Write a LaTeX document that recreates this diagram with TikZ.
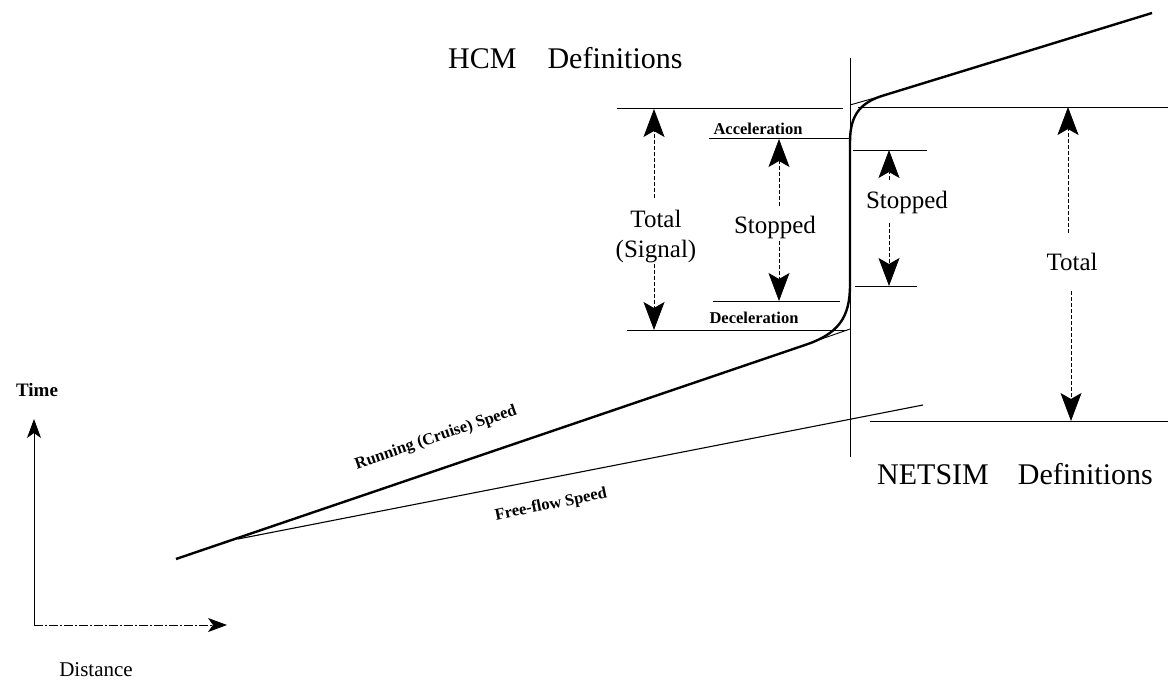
\documentclass[tikz,border=0pt]{standalone}
\usepackage{fontspec}
\setmainfont{Liberation Serif}
\usetikzlibrary{arrows.meta}
\begin{document}
\begin{tikzpicture}[x=1pt,y=-1pt,
  guide/.style={line width=0.9pt},
  traj/.style={line width=2.4pt, line join=round},
  dim/.style={line width=0.8pt, dash pattern=on 4pt off 2pt,
    -{Stealth[length=28pt,width=21pt,inset=6pt]}},
  axisarrow/.style={line width=0.9pt, -{Stealth[length=19pt,width=14pt,inset=5pt]}},
  title/.style={font=\fontsize{30}{36}\selectfont, inner sep=0pt, anchor=base west},
  midlabel/.style={font=\fontsize{25}{30}\selectfont, inner sep=0pt, align=center},
  smalllabel/.style={font=\bfseries\fontsize{16.5}{19}\selectfont, inner sep=0pt},
  axislabel/.style={font=\fontsize{21}{24}\selectfont, inner sep=0pt}]
\useasboundingbox (0,0) rectangle (1168,680);

% titles
\node[title] (hcm) at (448,68) {HCM\hspace{31pt}Definitions};
\node[title] (netsim) at (877,484) {NETSIM\hspace{29pt}Definitions};

% axes
\coordinate (O) at (34,625);
\coordinate (ytip) at (34,419);
\coordinate (xtip) at (227,625);
\draw[axisarrow] (O) -- (ytip);
\draw[axisarrow, dash pattern=on 9pt off 2pt on 2pt off 2pt] (O) -- (xtip);
\node[axislabel, font=\bfseries\fontsize{19}{22}\selectfont] (time) at (37,390) {Time};
\node[axislabel] (dist) at (96,670) {Distance};

% signal (stop) line
\coordinate (vtop) at (850,58);
\coordinate (vbot) at (850,457);
\draw[guide] (vtop) -- (vbot);

% trajectories
\draw[traj] (176,559) -- (805,345) .. controls (838,334) and (850,318) .. (850,285)
  -- (850,142) .. controls (850,114) and (861,102) .. (885,95) -- (1152,13);
\draw[guide] (810,343) -- (850,329);
\draw[guide] (850,105) -- (885,95);
\draw[line width=1.1pt] (238,539) -- (923,405);

\node[smalllabel, rotate=18.8] (run) at (436,438) {Running (Cruise) Speed};
\node[smalllabel, rotate=11.5] (ff) at (551,505) {Free-flow Speed};

% HCM reference lines
\coordinate (tl1) at (617,108); \coordinate (tl2) at (843,108);
\coordinate (tr1) at (858,107); \coordinate (tr2) at (1168,107);
\coordinate (acc1) at (709,138); \coordinate (acc2) at (850,138);
\coordinate (dec1) at (713,301); \coordinate (dec2) at (840,301);
\coordinate (bl1) at (627,330); \coordinate (bl2) at (847,330);
\draw[guide] (tl1) -- (tl2);
\draw[guide] (tr1) -- (tr2);
\draw[guide] (acc1) -- (acc2);
\draw[guide] (dec1) -- (dec2);
\draw[guide] (bl1) -- (bl2);

% NETSIM reference lines
\coordinate (ns1) at (853,150); \coordinate (ns2) at (927,150);
\coordinate (nb1) at (855,286); \coordinate (nb2) at (917,286);
\coordinate (nt1) at (870,421); \coordinate (nt2) at (1168,421);
\draw[guide] (ns1) -- (ns2);
\draw[guide] (nb1) -- (nb2);
\draw[guide] (nt1) -- (nt2);

\node[smalllabel] (acc) at (758,129) {Acceleration};
\node[smalllabel] (dec) at (754,318) {Deceleration};

% Total (Signal)
\node[midlabel] (tsig) at (656,237) {Total\\(Signal)};
\coordinate (tsigU) at (654,109);
\coordinate (tsigD) at (654,330);
\draw[dim, shorten <=12pt] (tsig.north -| tsigU) -- (tsigU);
\draw[dim] (tsig.south -| tsigD) -- (tsigD);

% HCM Stopped
\node[midlabel] (hst) at (775,227) {Stopped};
\coordinate (hstU) at (779,139);
\coordinate (hstD) at (779,301);
\draw[dim, shorten <=9pt] (hst.north -| hstU) -- (hstU);
\draw[dim, shorten <=2pt] (hst.south -| hstD) -- (hstD);

% NETSIM Stopped
\node[midlabel] (nst) at (907,202) {Stopped};
\coordinate (nstU) at (889,150);
\coordinate (nstD) at (889,286);
\draw[dim, shorten <=10pt] (nst.north -| nstU) -- (nstU);
\draw[dim, shorten <=9pt] (nst.south -| nstD) -- (nstD);

% NETSIM Total
\node[midlabel] (ntot) at (1072,262) {Total};
\coordinate (ntotU) at (1068,107);
\coordinate (ntotD) at (1071,421);
\draw[dim, shorten <=20pt] (ntot.north -| ntotU) -- (ntotU);
\draw[dim, shorten <=20pt] (ntot.south -| ntotD) -- (ntotD);
\end{tikzpicture}
\end{document}
